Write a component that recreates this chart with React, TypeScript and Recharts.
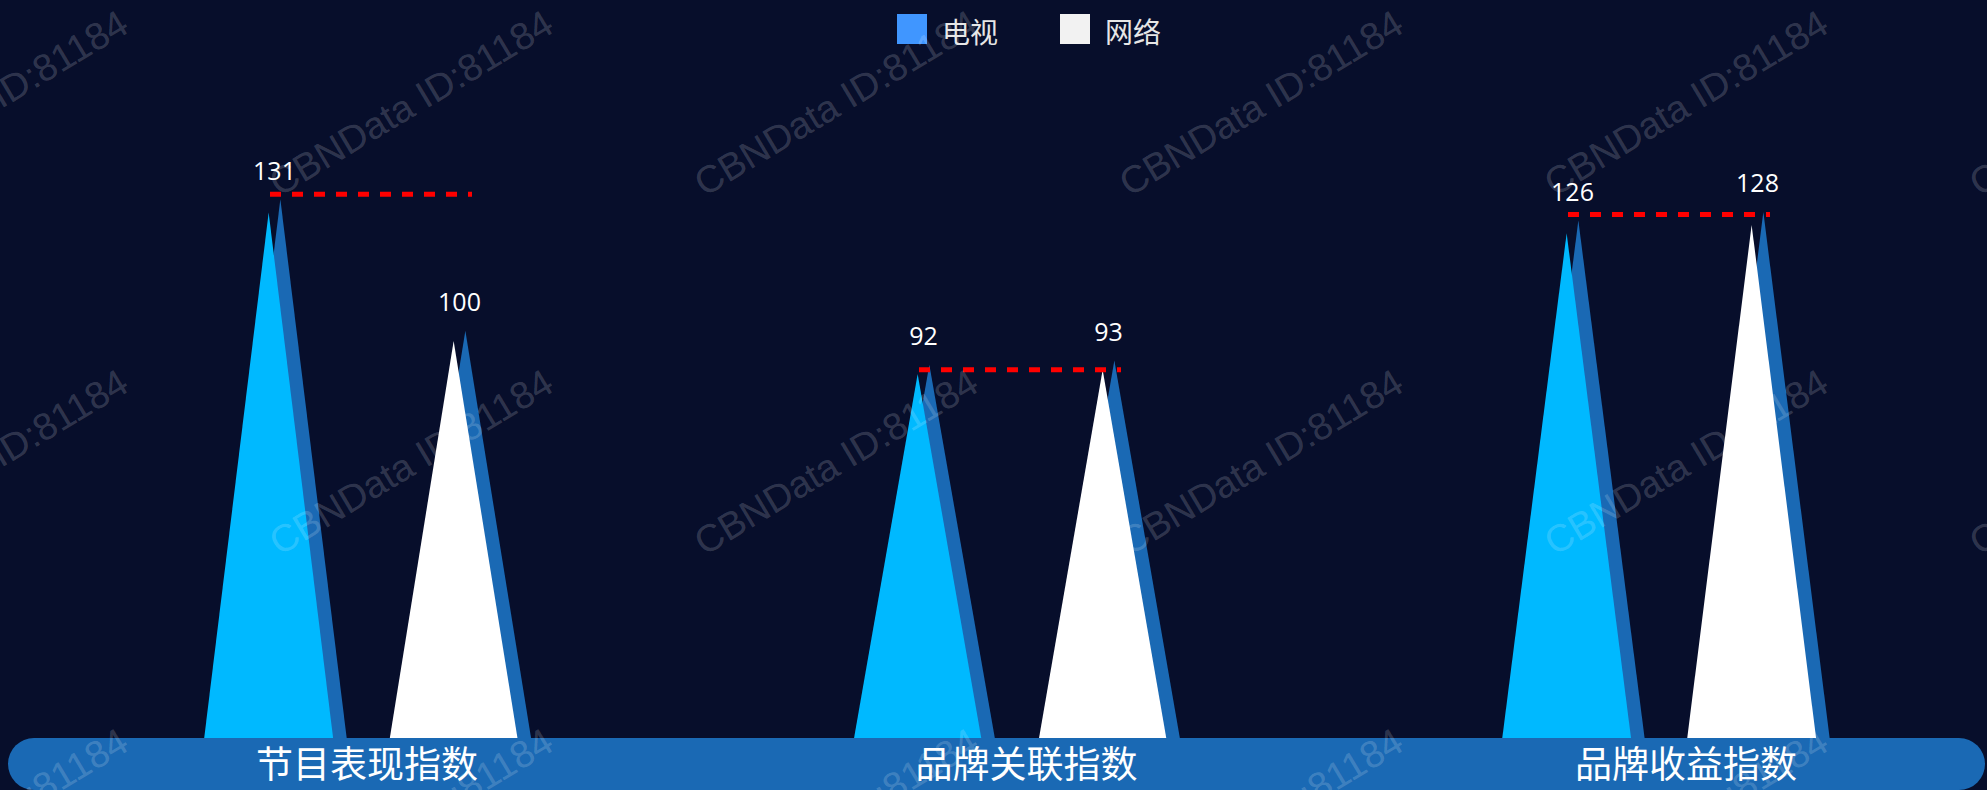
import React from 'react';
import { ComposedChart, Bar, Line, XAxis, YAxis, Legend } from 'recharts';

// ---------- data ----------
const categories = ['节目表现指数', '品牌关联指数', '品牌收益指数'];
const tvValues = [131, 92, 126];
const netValues = [100, 93, 128];
const dashLevels = [132.2, 90.8, 127.4];
const seriesNames = ['电视', '网络'];
const legendColors = ['#4096ff', '#f2f2f2'];
const frontColors = ['#00b9ff', '#ffffff'];
const yDomainMax = 178;
const watermarkText = 'CBNData ID:81184';

const data = categories.map((name, i) => ({
  name,
  tv: tvValues[i],
  net: netValues[i],
  level: dashLevels[i],
}));

// ---------- style constants ----------
const W = 1987;
const H = 790;
const BG = '#070e2b';
const SHADOW = '#1a69b4';
const BAND_TOP = 738;
const LABEL_DRIFT = 10.5;

const makeShape = (frontColor: string) => (props: any) => {
  const { x, y, width, height } = props;
  if (height == null || height <= 0) return <g />;
  const mid = x + width / 2;
  const y0 = y + height;
  const tri = (ax: number, ay: number, hw: number, fill: string) => {
    const k = hw / (y0 - ay);
    const cut = Math.min(BAND_TOP, y0);
    const d = (cut - ay) * k;
    return (
      <polygon
        points={`${ax},${ay} ${ax + d},${cut} ${ax - d},${cut}`}
        fill={fill}
      />
    );
  };
  return (
    <g>
      {tri(mid + 5.85, y, 68.4, SHADOW)}
      {tri(mid - 5.85, y0 - 0.976 * height, 66.5, frontColor)}
    </g>
  );
};

const renderValueLabel = (props: any) => {
  const { x, y, width, value } = props;
  return (
    <text
      x={x + width / 2}
      y={y - 19.6}
      textAnchor="middle"
      fill="#ffffff"
      fontSize={25}
      fontFamily="'Open Sans', 'Noto Sans', sans-serif"
    >
      {value}
    </text>
  );
};

const renderDash = (props: any) => {
  const { cx, cy, index } = props;
  if (cx == null || cy == null) return <g key={`d${index}`} />;
  return (
    <line
      key={`d${index}`}
      x1={cx - 97}
      x2={cx + 105}
      y1={cy}
      y2={cy}
      stroke="#ff0000"
      strokeWidth={5}
      strokeDasharray="11 11"
    />
  );
};

const renderTick = (props: any) => {
  const { x, payload, index } = props;
  const i = typeof index === 'number' ? index : payload.index ?? 0;
  return (
    <text
      x={x + i * LABEL_DRIFT}
      y={778}
      textAnchor="middle"
      fill="#ffffff"
      fontSize={37}
      fontFamily="'Noto Sans CJK SC', sans-serif"
    >
      {payload.value}
    </text>
  );
};

const renderLegend = () => (
  <div
    style={{
      position: 'absolute',
      left: 897,
      top: 14,
      display: 'flex',
      alignItems: 'center',
      fontFamily: "'Noto Sans CJK SC', sans-serif",
    }}
  >
    {seriesNames.map((n, i) => (
      <div
        key={n}
        style={{ display: 'flex', alignItems: 'center', marginRight: i === 0 ? 62 : 0 }}
      >
        <div style={{ width: 30, height: 30, background: legendColors[i] }} />
        <span
          style={{
            marginLeft: 15,
            fontSize: 28,
            lineHeight: '30px',
            color: '#e6e6e6',
            position: 'relative',
            top: 2,
          }}
        >
          {n}
        </span>
      </div>
    ))}
  </div>
);

const watermarkCols = [-14, 411, 836, 1261, 1686, 2111];
const watermarkRows = [103, 462, 821];

export default function App() {
  return (
    <div
      style={{
        position: 'fixed',
        left: 0,
        top: 0,
        width: W,
        height: H,
        overflow: 'hidden',
        background: BG,
      }}
    >
      <div
        style={{
          position: 'absolute',
          left: 8,
          top: BAND_TOP,
          width: 1977,
          height: 52,
          borderRadius: 26,
          background: SHADOW,
        }}
      />
      <div style={{ position: 'absolute', left: 0, top: 0 }}>
        <ComposedChart
          width={1990}
          height={H}
          data={data}
          margin={{ top: 0, right: 0.5, bottom: 0, left: 42.5 }}
          barSize={130}
          barGap={55}
        >
          <XAxis
            dataKey="name"
            axisLine={false}
            tickLine={false}
            height={35.3}
            tick={renderTick}
            interval={0}
          />
          <YAxis hide domain={[0, yDomainMax]} />
          <Legend
            verticalAlign="middle"
            align="center"
            content={renderLegend}
            wrapperStyle={{ top: 0, left: 0, width: 1990, height: 60 }}
          />
          <Bar
            dataKey="tv"
            name={seriesNames[0]}
            fill={legendColors[0]}
            shape={makeShape(frontColors[0])}
            label={renderValueLabel}
            isAnimationActive={false}
          />
          <Bar
            dataKey="net"
            name={seriesNames[1]}
            fill={legendColors[1]}
            shape={makeShape(frontColors[1])}
            label={renderValueLabel}
            isAnimationActive={false}
          />
          <Line
            dataKey="level"
            stroke="none"
            dot={renderDash}
            activeDot={false}
            legendType="none"
            isAnimationActive={false}
          />
        </ComposedChart>
      </div>
      <svg
        width={W}
        height={H}
        style={{ position: 'absolute', left: 0, top: 0, pointerEvents: 'none' }}
      >
        {watermarkRows.map((cy) =>
          watermarkCols.map((cx) => (
            <text
              key={`${cx}-${cy}`}
              x={cx}
              y={cy}
              textAnchor="middle"
              dominantBaseline="central"
              transform={`rotate(-31 ${cx} ${cy})`}
              fill="rgba(255,255,255,0.18)"
              fontSize={38}
              fontFamily="'Liberation Sans', Arial, sans-serif"
            >
              {watermarkText}
            </text>
          ))
        )}
      </svg>
    </div>
  );
}
